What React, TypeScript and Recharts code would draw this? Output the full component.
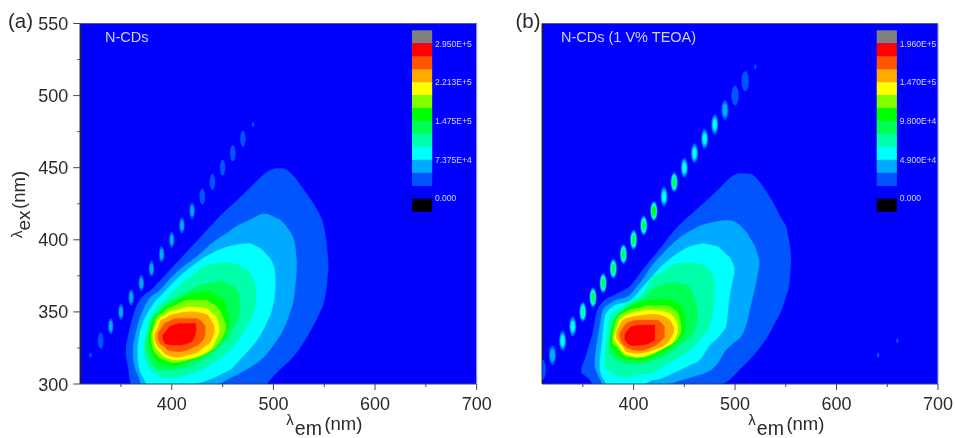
import React from "react";
import { ComposedChart, Area, Scatter, XAxis, YAxis, CartesianGrid, ReferenceLine } from "recharts";

const FONT = "'Liberation Sans', Arial, sans-serif";
const BG = "#0000ff";
const levelColors = ["#0055ff", "#00aaff", "#00ffff", "#00ffaa", "#00ff55", "#00ff00", "#80ff00", "#ffff00", "#ffaa00", "#ff5500", "#ff0000"];
const barColors = ["#808080", "#ff0000", "#ff5500", "#ffaa00", "#ffff00", "#80ff00", "#00ff00", "#00ff55", "#00ffaa", "#00ffff", "#00aaff", "#0055ff"];
const barLabelsA = ["2.950E+5", "2.213E+5", "1.475E+5", "7.375E+4", "0.000"];
const barLabelsB = ["1.960E+5", "1.470E+5", "9.800E+4", "4.900E+4", "0.000"];
const xTicks = [350, 400, 450, 500, 550, 600, 650, 700];
const xMajor = [400, 500, 600, 700];
const yTicks = [300, 325, 350, 375, 400, 425, 450, 475, 500, 525, 550];
const yMajor = [300, 350, 400, 450, 500, 550];

// Each row: emission wavelength, lower and upper excitation edge of the contour level
const a1 = [[355,320,326],[357,312,333],[360,300,342],[366.6,300,355.9],[381.3,300,366.3],[404.3,300,383.6],[427.2,300,400.9],[450.2,300,418.2],[469.8,300,431],[483,300,440.2],[491,300,445.5],[502.6,307.5,449.4],[509.2,312,449.5],[515.7,316,447],[528.9,328,435.6],[543.6,346.7,420],[545.2,349,418],[551.8,365,400],[554.1,381,382]];
const a2 = [[362,318,326],[364,311,333],[367,306,342],[370,300,348],[375,300,356],[388,300,365],[404,300,377],[424,300,388],[444,300,400],[457,304,406],[463,306,409],[473,310,412.5],[480,313,415],[491,319,418],[503,330,415],[506,333,414],[514,345,408],[516,349,406],[521,365,397.5],[523,381,383]];
const a3 = [[366.5,318,326],[368,311,333],[371.5,305,342],[376,300,349],[380,300,353.6],[393,300,364],[407.5,300,374.4],[420.7,300,382],[430.5,301.6,387],[443.6,305,392],[450,307.4,394],[460,311.5,396],[466.6,316.6,397],[476.4,324,397.5],[481.3,328,396],[489.5,337,392.8],[493,342,390],[499.3,354,383.6],[501,360,380],[502,370,373]];
const a4 = [[373,319,326],[375,315,333],[378,311,343],[385,307,352.5],[388,305,355],[398,304,361.7],[401,304,364],[414,306,372],[421,307.4,376],[430.5,310,381],[440,314,383],[450,319.5,384.3],[457,323.6,384],[463,328.5,383.6],[470,335,381],[473,339,380],[480,349,373],[481.3,352,371],[483,360,362]];
const a5 = [[374,325,329],[377.4,318,340],[378,317,342],[388,309.7,351.3],[401,309.7,358.5],[404.3,310,359.4],[424,314.3,367.4],[443.6,323.6,371],[447,326,371.6],[456.7,332.8,369],[462.6,342,366.3],[466,347,361],[467.2,352,356]];
const a6 = [[377.4,329,333],[379.7,322.4,339],[381.3,320,344.3],[388,314.3,348.5],[392.8,313.5,353.6],[401,312.5,356],[414,315,361.7],[424,317.8,363],[437,322,364],[443.6,325.9,361.5],[451.8,333,357],[453.4,335,354],[456.7,344,345]];
const a7 = [[379.7,331,334],[381.3,325,338],[384.6,321,345.5],[389.5,317.8,348.5],[396,316,352.4],[401,314.8,353.8],[417.4,317,358.2],[420.7,317.8,358.2],[433.8,321,358.2],[437,322.4,356.8],[447,329,351.3],[448.5,330.5,349],[453.4,338,341]];
const a8 = [[381.3,333,336],[384.6,325,342],[386.2,323.5,344.3],[392.8,318.9,347.5],[397.7,317.5,350.1],[404.3,316.6,351],[417.4,317.5,353.6],[424,318.9,353.2],[433.8,322,352.4],[440.3,325.9,348.5],[443.6,331,346.7],[447,336,339]];
const a9 = [[383,331,334],[386.2,326,339],[389.5,324,344.3],[392.8,321.2,345.5],[401,319,348.3],[404.3,318.5,348.8],[420.7,321,350.1],[422.3,321.2,350],[435.4,327.5,347.8],[437,328.2,346],[442,336,340]];
const a10 = [[386.2,332,335],[388.5,328,337.5],[392.8,326,342],[396.1,323.6,343],[404.3,322.6,345.5],[407.5,322.4,345.5],[422.3,325.9,345.5],[424,326.5,345.5],[432.1,332.5,341],[433.1,336,340]];
const a11 = [[391,331,334],[394.4,327.7,336.5],[397.7,327.3,339.7],[405.9,327,341.6],[407.5,327,342],[419,329.3,342],[423.3,335,342],[424,338,341.5]];

const b1 = [[348.5,308,311],[351.8,306,316.6],[356.7,303,328],[360,300,336],[363.3,300,349],[369.8,300,357],[381.3,300,361.7],[397.7,300,368.6],[407.5,300,377.8],[422.3,300,390.5],[442,300,407.9],[461.6,300,420.6],[481.3,300,433.3],[488,300.5,438],[494.4,303,442.5],[504.3,310,446],[515.7,318,445.5],[524,325,440.2],[533.8,335,430],[537,339.5,426.3],[546.9,353.6,413],[550.2,361,409],[553.4,369.7,398],[555,385,390]];
const b2 = [[361.6,313,316],[363.3,309,325.9],[366.6,304,339.7],[369.8,300,351.3],[379.7,300,357],[396,300,361.7],[405.9,300,369.7],[417.4,300,381.3],[432.1,300,392.8],[448.5,303,403.2],[458.4,305,407],[463.3,306,409],[471.5,308,411],[481.3,313,412.5],[491,323.6,413.5],[497.7,328,413],[507.5,335,408],[510.8,341,405.5],[517.4,360.5,398],[519,365,396.3],[524,383,385]];
const b3 = [[366.6,312,316],[367.2,309,319],[369.8,304,335],[371.5,302,346.7],[373.1,300,349],[379.7,300,353.6],[397.7,300,358.2],[409.2,300,367.4],[419,302.8,375],[422.3,303,377.8],[438.7,307.4,388.2],[455,313,395.2],[464.9,316.6,397],[468.2,319.5,397.5],[474.8,327,396.5],[483,332,395.2],[486.2,335,393.5],[491,340,390],[494.4,360,388],[499.3,377,381]];
const b4 = [[371.5,313,317],[372.5,311,326],[374.8,309.5,339.7],[378,308,349],[389.5,305,353.5],[392.8,305,355.9],[409.2,307,362.8],[419,308,374.4],[428.9,312,378],[432.1,313.5,380],[448.5,320,384.1],[463.3,329,383.8],[464.9,330.5,383.6],[474.8,340,379],[478,349,376],[479.7,360,369.7]];
const b5 = [[375.7,322,326],[379,319.5,342],[381.3,317.8,345],[389.5,315,351.3],[392.8,314.3,353],[402.6,314.3,357],[409.2,314.3,359.5],[415.7,315.5,364],[425.6,317.8,368.6],[432.1,320,369.5],[438.7,323,370.2],[448.5,328.2,369.5],[453.4,331,368.6],[460,337.4,359.4],[463.3,345,350]];
const b6 = [[377,326,331],[381.3,323,344.3],[383,321.2,346],[392.8,317,352.4],[409.2,316.6,357],[428.9,322.4,358.7],[442,329.3,356.5],[443.6,330.5,355.9],[450.2,336,346.7],[451.1,338,342]];
const b7 = [[379,328,332],[383,326.5,344.3],[384.6,324.7,346],[394.4,318.9,350.8],[409.2,318.5,353.5],[411.5,318.9,354.3],[428.9,324.7,354.3],[432.1,326,354.3],[443.6,331.6,349],[446.9,337,341]];
const b8 = [[380.7,331,334],[384.6,327,341],[386.2,325.5,344.3],[391.1,321,347],[396,320,349],[402.6,318.5,350],[415.7,320.5,351.3],[419,321.2,351.2],[433.8,326.5,349.4],[435.4,327,349],[442.6,334,342],[443.6,336,339]];
const b9 = [[383,332,336],[386.2,328.2,341],[389.5,326,344.3],[392.8,322.4,345.5],[399.3,321.5,346.7],[402.6,321.2,347],[419,323.6,348.3],[433.8,329,345.5],[435.4,330.5,344.5],[439.7,336,339]];
const b10 = [[386.2,333,335],[387.9,329.3,337],[392.8,325.5,342],[394.4,324.7,342.5],[404.3,323.2,344.3],[405.9,323,344.3],[419,325.9,344.3],[422.3,327,344.3],[430.5,332.8,339.7]];
const b11 = [[391.1,331,334],[392.8,329.3,336],[397.7,326.6,339.7],[409.2,327,340.9],[421,330.5,340.9]];

// Rayleigh-scatter spots: x, y, number of contour levels reached (0 = faint dot)
const spotsA = [[320,320,0],[330,330,1],[340,340,2],[350,350,2],[360,360,2],[370,370,2],[380,380,2],[390,390,2],[400,400,2],[410,410,2],[420,420,2],[430,430,1],[440,440,1],[450,450,1],[460,460,1],[470,470,1],[480,480,0]];
const spotsB = [[310,310,1],[320,320,2],[330,330,3],[340,340,3],[350,350,4],[360,360,5],[370,370,5],[380,380,5],[390,390,5],[400,400,5],[410,410,5],[420,420,6],[430,430,3],[440,440,5],[450,450,3],[460,460,3],[470,470,3],[480,480,3],[490,490,2],[500,500,1],[510,510,1],[520,520,0],[660,330,0],[641,320,0]];

const contoursA = [a1, a2, a3, a4, a5, a6, a7, a8, a9, a10, a11];
const contoursB = [b1, b2, b3, b4, b5, b6, b7, b8, b9, b10, b11];

const toRows = (c: number[][]) => c.map((r) => ({ x: r[0], band: [r[1], r[2]] }));
const toSpots = (s: number[][]) => s.map((r) => ({ x: r[0], y: r[1], level: r[2] }));

const Spot = (p: any) => {
  const { cx, cy, payload, rx, ry } = p;
  const level = payload.level;
  if (level === 0) return <ellipse cx={cx} cy={cy} rx={1.2} ry={2.4} fill={levelColors[0]} />;
  const out = [];
  for (let k = 0; k < level; k++) {
    const s = 1 - (k / level) * 0.65;
    out.push(<ellipse key={k} cx={cx} cy={cy} rx={rx * s} ry={ry * s} fill={levelColors[k]} />);
  }
  return <g>{out}</g>;
};

const XTick = (p: any) => {
  const major = xMajor.includes(p.payload.value);
  return (
    <g>
      <line x1={p.x} x2={p.x} y1={p.y} y2={p.y + (major ? 6 : 3)} stroke="#444" strokeWidth={1} />
      {major && <text x={p.x} y={p.y + 26} textAnchor="middle" fontFamily={FONT} fontSize={18} fill="#2a2a2a">{p.payload.value}</text>}
    </g>
  );
};
const YTick = (p: any) => {
  const major = yMajor.includes(p.payload.value);
  return (
    <g>
      <line x1={p.x} x2={p.x - (major ? 7 : 3)} y1={p.y} y2={p.y} stroke="#444" strokeWidth={1} />
      {major && <text x={p.x - 12} y={p.y + 6.5} textAnchor="end" fontFamily={FONT} fontSize={18} fill="#2a2a2a">{p.payload.value}</text>}
    </g>
  );
};

const XTitle = (p: any) => {
  const x0 = p.viewBox.x + 206;
  return (
    <text x={x0} y={425} fontFamily={FONT} fill="#2a2a2a">
      <tspan fontSize={15}>λ</tspan>
      <tspan fontSize={19.5} dy={10} dx={1}>em</tspan>
      <tspan fontSize={18.5} dy={-5} dx={2.5}>(nm)</tspan>
    </text>
  );
};
const YTitle = () => (
  <text transform="translate(22,238) rotate(-90)" fontFamily={FONT} fill="#2a2a2a">
    <tspan fontSize={15}>λ</tspan>
    <tspan fontSize={19} dy={8}>ex</tspan>
    <tspan fontSize={18.5} dy={-5} dx={1.5}>(nm)</tspan>
  </text>
);

function Panel(props: any) {
  const { contours, spots, left, width, yAxisW, right, showY, rx, ry } = props;
  return (
    <div style={{ position: "absolute", left, top: 0 }}>
      <ComposedChart width={width} height={438} margin={{ top: 23.5, right, bottom: 0, left: 0 }}>
        <CartesianGrid horizontal={false} vertical={false} fill={BG} />
        {contours.map((c: number[][], i: number) => (
          <Area
            key={i}
            data={toRows(c)}
            dataKey="band"
            type="monotone"
            fill={levelColors[i]}
            fillOpacity={1}
            stroke={levelColors[i]}
            strokeWidth={0.4}
            dot={false}
            activeDot={false}
            isAnimationActive={false}
            legendType="none"
          />
        ))}
        <Scatter
          data={toSpots(spots)}
          dataKey="y"
          isAnimationActive={false}
          shape={(p: any) => <Spot {...p} rx={rx} ry={ry} />}
        />
        <ReferenceLine y={550} stroke="#5a5a8a" strokeWidth={1} />
        <ReferenceLine x={700} stroke="#9a9aff" strokeWidth={1} />
        <XAxis
          type="number"
          dataKey="x"
          domain={[310, 700]}
          allowDataOverflow
          ticks={xTicks}
          interval={0}
          height={54}
          tickSize={0}
          tickMargin={0}
          tickLine={false}
          tick={<XTick />}
          stroke="#444"
          label={<XTitle />}
        />
        <YAxis
          type="number"
          dataKey="y"
          domain={[300, 550]}
          allowDataOverflow
          ticks={yTicks}
          interval={0}
          width={yAxisW}
          tickSize={0}
          tickMargin={0}
          tickLine={false}
          tick={showY ? <YTick /> : false}
          stroke="#222"
          strokeWidth={1.5}
          label={showY ? <YTitle /> : undefined}
        />
      </ComposedChart>
    </div>
  );
}

function ColorBar({ x, labels }: { x: number; labels: string[] }) {
  const cell = 12.95;
  const top = 30.3;
  const labelY = [46.5, 85, 124, 163, 201];
  return (
    <g>
      {barColors.map((c, i) => (
        <rect key={c} x={x} y={top + i * cell} width={20.2} height={cell + 0.3} fill={c} />
      ))}
      <rect x={x} y={198.7} width={20.2} height={13} fill="#000" />
      {labels.map((t, i) => (
        <text key={t} x={x + 23} y={labelY[i]} fontFamily={FONT} fontSize={8.5} fill="#d5d9ff">{t}</text>
      ))}
    </g>
  );
}

export default function App() {
  return (
    <div style={{ position: "absolute", left: 0, top: 0, width: 955, height: 438, background: "#fff", overflow: "hidden", filter: "blur(0.45px)" }}>
      <Panel contours={contoursA} spots={spotsA} left={0} width={500} yAxisW={80.3} right={23.3} showY rx={2.7} ry={8} />
      <Panel contours={contoursB} spots={spotsB} left={462} width={493} yAxisW={80.3} right={17} showY={false} rx={3.6} ry={10} />
      <svg width={955} height={438} style={{ position: "absolute", left: 0, top: 0, pointerEvents: "none" }}>
        <text x={8} y={28} fontFamily={FONT} fontSize={20.5} fill="#2a2a2a">(a)</text>
        <text x={515.5} y={28} fontFamily={FONT} fontSize={20.5} fill="#2a2a2a">(b)</text>
        <text x={105} y={42} fontFamily={FONT} fontSize={14.5} fill="#cdd3ff">N-CDs</text>
        <text x={561} y={42} fontFamily={FONT} fontSize={14.5} fill="#cdd3ff">N-CDs (1 V% TEOA)</text>
        <ColorBar x={412} labels={barLabelsA} />
        <ColorBar x={876.7} labels={barLabelsB} />
      </svg>
    </div>
  );
}
